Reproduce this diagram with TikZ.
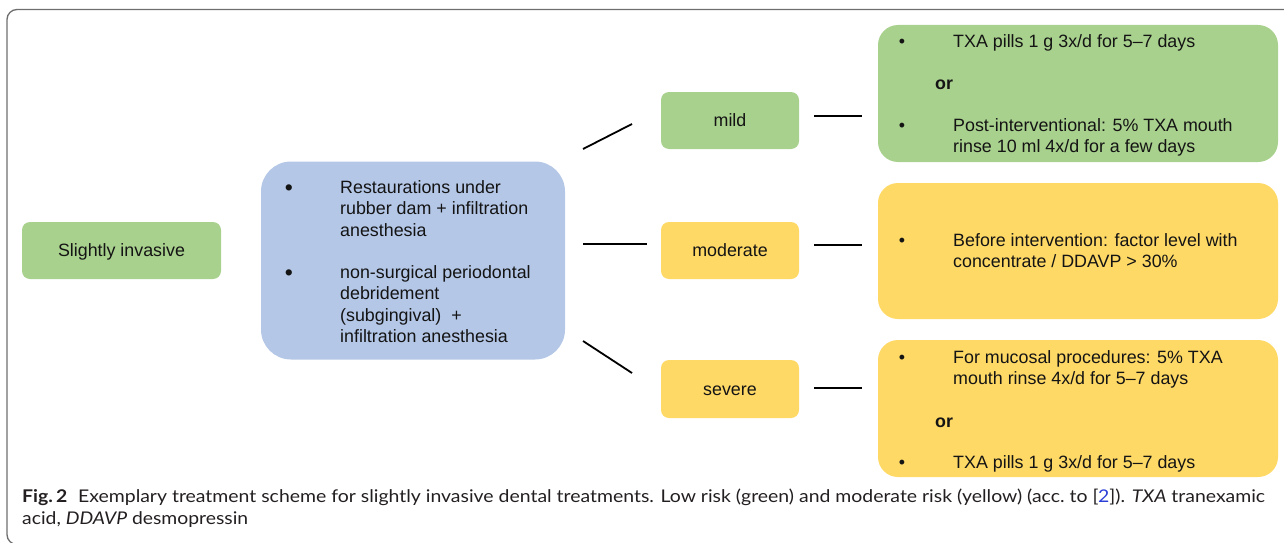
\documentclass[tikz,border=0pt]{standalone}
\usepackage{fontspec}
\setmainfont{Liberation Sans}
\newfontfamily\capfont{Lato}
\usepackage{graphicx}

\definecolor{lowgreen}{HTML}{A9D18E}
\definecolor{modyellow}{HTML}{FFD966}
\definecolor{procblue}{HTML}{B4C7E7}
\definecolor{ink}{HTML}{141414}
\definecolor{capink}{HTML}{231F20}
\definecolor{refblue}{HTML}{2B3FD6}
\definecolor{framegray}{HTML}{6E6E6E}

\newcommand\figcaplineA{\textbf{Fig.\,2}\hspace{0.55em}Exemplary treatment scheme for slightly invasive dental treatments. Low risk (green) and moderate risk (yellow) (acc.\ to [\textcolor{refblue}{2}]). \textit{TXA} tranexamic}
\newcommand\figcaplineB{acid, \textit{DDAVP} desmopressin}
\newcommand\capsize{\fontsize{17.5}{22}\selectfont}

\begin{document}
\begin{tikzpicture}[x=1pt,y=-1pt,
  card/.style={draw=none, rounded corners=#1, inner sep=0pt},
  lbl/.style={font=\fontsize{17.85}{21.5}\selectfont, text=ink,
    text height=12.8pt, text depth=0pt, align=center},
  txt/.style={anchor=base west, inner sep=0pt, text=ink,
    font=\fontsize{17.85}{21.5}\selectfont},
  dot/.style={anchor=base, inner sep=0pt, text=ink,
    font=\fontsize{#1}{21.5}\selectfont},
  link/.style={draw=black, line width=1.8pt},
  captext/.style={anchor=base west, inner sep=0pt, text=capink,
    font=\capfont\capsize}]

\useasboundingbox (0,0) rectangle (1284,543);

% outer frame of the figure panel
\begin{scope}
  \clip (0,0) rectangle (1284,543);
  \draw[framegray, line width=1.3pt, rounded corners=10pt]
    (7,9.5) rectangle (1310,544.5);
\end{scope}

% risk class and procedures
\node[card=8pt, fill=lowgreen, minimum width=199pt, minimum height=57pt, lbl]
  (si) at (121.5,250.5) {Slightly invasive};
\node[card=30pt, fill=procblue, minimum width=304pt, minimum height=198pt]
  (proc) at (413,260.5) {};

\node[dot=23] (pb1) at (289,195.5) {•};
\node[txt] (pt1) at (340,193)
  {\parbox[t]{220pt}{Restaurations under\\rubber dam + infiltration\\anesthesia}};
\node[dot=23] (pb2) at (289,280.5) {•};
\node[txt] (pt2) at (340,278)
  {\parbox[t]{220pt}{non-surgical periodontal\\debridement\\(subgingival)\ \ +\\infiltration anesthesia}};

% bleeding risk levels
\node[card=8pt, fill=lowgreen, minimum width=138pt, minimum height=57pt, lbl]
  (mild) at (730,120.5) {mild};
\node[card=8pt, fill=modyellow, minimum width=138pt, minimum height=57pt, lbl]
  (moderate) at (730,250.5) {moderate};
\node[card=8pt, fill=modyellow, minimum width=138pt, minimum height=58pt, lbl]
  (severe) at (730,389) {severe};

% measures per level
\node[card=20pt, fill=lowgreen, minimum width=400pt, minimum height=137pt]
  (mildbox) at (1078,93.5) {};
\node[card=20pt, fill=modyellow, minimum width=400pt, minimum height=136pt]
  (modbox) at (1078,251) {};
\node[card=20pt, fill=modyellow, minimum width=400pt, minimum height=137pt]
  (sevbox) at (1078,408.5) {};

\node[dot=17.85] (gb1) at (902,47.7) {•};
\node[txt] (gt1) at (953,47.7) {TXA pills 1 g 3x/d for 5–7 days};
\node[txt, font=\bfseries\fontsize{17.85}{21.5}\selectfont] (gor) at (935,89) {or};
\node[dot=17.85] (gb2) at (902,131) {•};
\node[txt] (gt2) at (953,131)
  {\parbox[t]{310pt}{Post-interventional: 5\% TXA mouth\\rinse 10 ml 4x/d for a few days}};

\node[dot=17.85] (mb1) at (902,246) {•};
\node[txt] (mt1) at (953,246)
  {\parbox[t]{310pt}{Before intervention: factor level with\\concentrate / DDAVP > 30\%}};

\node[dot=17.85] (sb1) at (902,363) {•};
\node[txt] (st1) at (953,363)
  {\parbox[t]{310pt}{For mucosal procedures: 5\% TXA\\mouth rinse 4x/d for 5–7 days}};
\node[txt, font=\bfseries\fontsize{17.85}{21.5}\selectfont] (sor) at (935,427) {or};
\node[dot=17.85] (sb2) at (902,468) {•};
\node[txt] (st2) at (953,468) {TXA pills 1 g 3x/d for 5–7 days};

% connectors (free-standing strokes between the columns)
\coordinate (cMildA) at (583,149);   \coordinate (cMildB) at (632,124);
\coordinate (cModA)  at (583,244);   \coordinate (cModB)  at (647,244);
\coordinate (cSevA)  at (583,341);   \coordinate (cSevB)  at (632,373);
\coordinate (rMildA) at (814,116);   \coordinate (rMildB) at (862,116);
\coordinate (rModA)  at (814,245);   \coordinate (rModB)  at (862,245);
\coordinate (rSevA)  at (814,388);   \coordinate (rSevB)  at (862,388);
\draw[link] (cMildA) -- (cMildB);
\draw[link] (cModA) -- (cModB);
\draw[link] (cSevA) -- (cSevB);
\draw[link] (rMildA) -- (rMildB);
\draw[link] (rModA) -- (rModB);
\draw[link] (rSevA) -- (rSevB);

% caption, condensed to the panel width
\node[captext] (capA) at (22,502) {\resizebox{1243pt}{\height}{\figcaplineA}};
\node[captext] (capB) at (22,524) {\resizebox{226pt}{\height}{\figcaplineB}};
\end{tikzpicture}
\end{document}
